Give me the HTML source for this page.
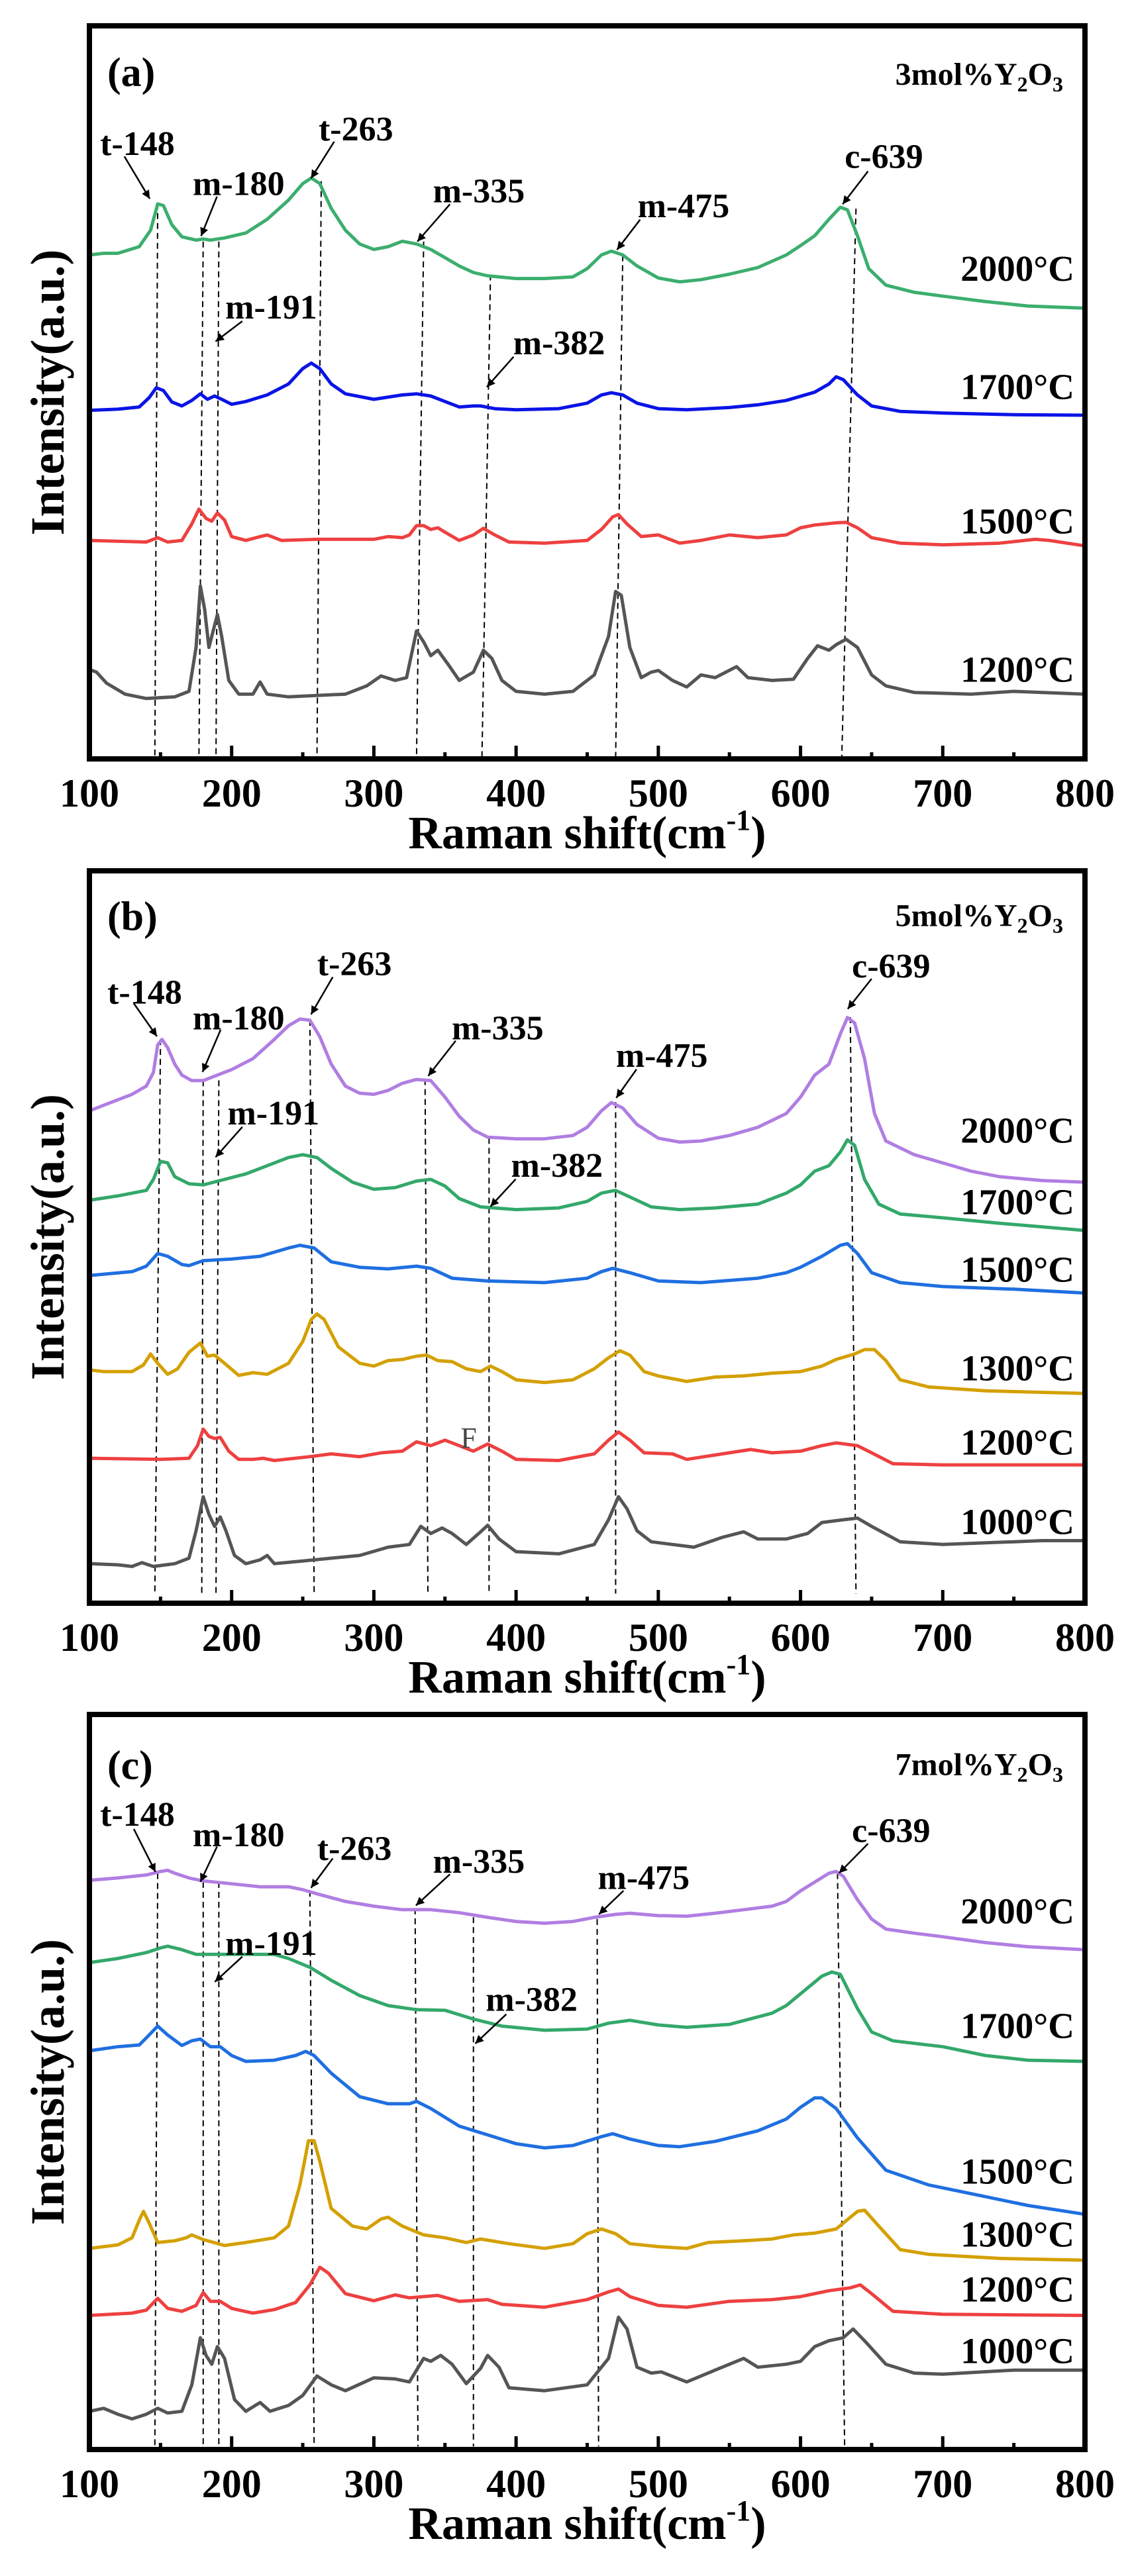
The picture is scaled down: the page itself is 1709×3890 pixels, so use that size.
<!DOCTYPE html>
<html><head><meta charset="utf-8">
<style>
html,body{margin:0;padding:0;background:#fff;}
svg{display:block;}
text{font-family:"Liberation Serif","Times New Roman",serif;font-weight:bold;fill:#000;}
</style></head>
<body>
<svg id="fig" width="1709" height="3890" viewBox="0 0 1709 3890" xmlns="http://www.w3.org/2000/svg"></svg>
<script>
// ---------- DATA ----------
const ticksX = [100,200,300,400,500,600,700,800];
const minorX = [150,250,350,450,550,650,750];

// Panel (a) 3mol%
const a_labels = ['2000°C','1700°C','1500°C','1200°C'];
const a_2000_x = [100,110,120,135,143,148,152,158,165,175,180,185,195,210,225,240,250,256,262,270,280,290,300,310,320,330,340,350,360,370,380,400,420,440,450,460,467,475,485,500,515,530,550,570,590,600,610,620,628,633,640,648,660,680,700,730,760,800];
const a_2000_y = [918,921,921,933,963,1011,1008,973,951,945,947,945,949,958,983,1018,1048,1058,1048,1003,963,938,928,933,943,938,928,913,898,886,880,875,875,878,893,918,925,918,898,876,869,873,883,895,918,935,953,983,1005,1000,953,893,863,850,843,833,825,821];
const a_1700_x = [100,120,135,142,147,152,158,165,172,178,183,188,193,200,210,225,240,250,256,262,270,280,300,320,330,340,350,360,370,375,385,400,430,450,460,467,475,485,500,520,550,570,590,610,620,625,630,640,650,670,700,750,800];
const a_1700_y = [635,637,641,658,676,671,650,643,653,665,655,661,655,646,651,663,683,711,721,711,683,665,655,663,665,661,651,641,643,643,638,636,638,648,663,667,663,648,638,636,640,645,653,668,683,696,691,663,643,633,630,627,626];
const a_1500_x = [100,140,148,155,165,172,177,182,186,190,195,200,210,220,225,235,260,300,310,320,325,330,335,340,345,350,360,370,377,385,395,420,450,460,468,472,478,488,500,515,530,550,570,590,600,610,625,632,640,650,670,700,740,765,775,800];
const a_1500_y = [398,395,403,395,398,428,455,438,433,448,435,405,398,405,408,398,400,400,405,403,408,425,425,418,421,413,398,408,420,408,395,393,398,418,441,445,428,405,408,393,398,408,403,408,421,426,430,431,421,403,393,390,393,400,398,388];
const a_1200_x = [100,105,112,125,140,160,170,175,178,181,184,187,190,193,198,205,215,220,225,240,280,295,305,315,323,330,335,340,345,352,360,370,377,383,390,400,420,440,455,465,470,474,480,488,495,500,510,520,530,540,555,563,580,595,605,612,620,625,632,640,650,660,680,720,750,800];
const a_1200_y = [163,158,138,118,110,113,123,203,315,273,203,233,263,223,143,118,118,140,118,113,118,133,151,143,148,233,213,188,198,173,143,158,198,183,143,123,118,123,153,223,305,298,203,148,158,161,143,131,153,148,168,148,143,145,183,206,198,208,218,203,153,133,121,118,123,118];

// Panel (b) 5mol%
const b_labels = ['2000°C','1700°C','1500°C','1300°C','1200°C','1000°C'];
const b_2000_x = [100,110,120,130,140,145,148,151,155,160,165,172,180,190,200,215,230,240,248,255,262,270,280,290,300,310,320,330,340,350,360,370,380,400,420,440,450,460,467,475,485,500,515,530,550,570,590,600,610,620,628,633,638,645,652,660,680,700,720,740,770,800];
const b_2000_y = [897,907,917,927,942,967,1017,1027,1012,982,962,952,952,962,972,992,1027,1052,1064,1062,1032,982,942,929,927,934,947,954,952,922,887,862,849,846,846,852,867,897,912,902,872,847,840,842,852,867,892,922,962,982,1037,1067,1057,992,892,842,817,802,787,777,770,767];
const b_1700_x = [100,120,140,145,150,155,160,170,180,195,210,225,240,250,260,270,285,300,315,330,340,350,360,375,400,430,450,460,470,480,495,515,540,570,590,600,610,620,628,633,638,645,655,670,700,740,800];
const b_1700_y = [734,742,752,772,805,802,777,764,762,772,782,797,812,817,812,792,767,754,757,769,772,760,737,722,717,720,732,747,752,740,722,717,720,727,747,762,787,797,822,844,834,772,727,709,702,692,679];
const b_1500_x = [100,130,140,148,155,165,170,180,200,220,240,248,258,270,290,310,330,340,355,380,420,450,460,468,480,500,530,570,590,600,615,628,633,640,650,670,700,750,800];
const b_1500_y = [597,604,614,637,632,617,615,624,627,632,647,652,647,622,612,609,614,610,592,587,584,592,604,610,602,587,584,592,602,612,632,652,655,637,602,584,577,572,565];
const b_1300_x = [100,110,130,138,143,148,155,162,170,178,183,188,195,205,215,225,240,250,256,260,265,275,290,300,310,320,330,337,345,355,365,375,382,390,400,420,440,455,465,473,480,490,500,520,540,560,580,600,615,625,638,645,652,660,670,690,730,800];
const b_1300_y = [425,422,422,434,454,437,417,427,457,474,450,452,437,415,420,417,437,477,517,527,517,467,437,432,442,444,450,452,442,440,427,422,432,422,407,402,407,427,447,460,452,422,414,404,412,414,419,422,432,444,454,462,462,442,407,394,387,382];
const b_1200_x = [100,150,170,176,180,184,188,192,198,205,215,222,230,255,270,290,305,320,330,340,350,360,370,380,390,400,430,455,465,472,480,490,510,520,545,565,580,600,615,625,640,650,665,700,800];
const b_1200_y = [264,262,264,287,317,304,300,302,277,262,262,264,260,267,272,267,274,277,294,287,297,287,277,290,277,262,260,272,297,312,297,274,272,262,272,280,274,277,287,292,287,274,254,252,252];
const b_1000_x = [100,120,130,137,145,160,170,175,180,184,188,192,196,202,210,220,225,230,250,270,290,310,325,333,340,348,355,365,375,380,388,400,430,455,465,472,478,485,495,510,525,545,560,570,590,605,615,630,640,650,670,700,750,770,800];
const b_1000_y = [72,70,67,74,67,72,82,132,194,162,140,157,132,87,72,79,87,72,77,82,87,102,107,140,127,137,127,107,130,142,117,94,90,107,152,194,172,132,112,107,102,120,130,117,117,127,147,152,155,140,112,107,112,114,114];

// Panel (c) 7mol%
const c_labels = ['2000°C','1700°C','1500°C','1300°C','1200°C','1000°C'];
const c_2000_x = [100,120,140,150,155,160,170,180,200,220,240,250,260,280,300,320,340,360,380,400,420,440,455,470,480,500,520,540,560,580,590,600,610,620,625,630,640,650,660,680,700,730,760,800];
const c_2000_y = [968,972,977,983,985,980,972,967,962,957,957,952,945,932,924,918,918,913,905,898,895,898,905,910,912,908,907,912,918,924,932,950,965,980,983,975,935,902,885,878,872,862,855,850];
const c_1700_x = [100,120,140,150,155,165,175,190,210,230,240,255,270,290,310,330,350,370,390,420,450,465,480,500,520,550,580,590,605,615,622,628,640,650,665,700,730,760,800];
const c_1700_y = [828,835,845,853,856,850,842,842,842,842,835,820,798,772,755,748,747,732,720,713,715,725,730,722,718,723,742,755,785,805,812,808,750,710,695,685,670,662,660];
const c_1500_x = [100,120,135,140,148,155,165,172,178,185,192,200,210,230,245,252,258,270,290,310,325,330,340,360,380,400,420,440,460,468,480,500,515,540,570,590,600,610,615,625,640,660,690,720,760,800];
const c_1500_y = [678,685,688,700,720,705,687,695,698,685,685,670,660,662,670,677,670,640,600,588,588,592,580,550,535,520,513,517,532,537,528,517,515,524,542,562,582,598,598,580,530,475,450,435,415,400];
const c_1300_x = [100,120,130,135,138,142,148,160,168,172,180,195,210,230,240,248,254,258,262,270,285,295,305,310,320,335,350,365,375,395,420,440,450,460,470,480,500,520,535,560,580,595,610,625,640,645,655,670,690,740,800];
const c_1300_y = [342,348,360,390,405,385,352,355,360,365,357,347,352,360,380,450,525,525,490,410,380,375,392,395,380,365,360,352,358,350,342,350,367,375,367,350,345,342,352,355,358,365,368,375,405,407,380,340,332,325,322];
const c_1200_x = [100,130,140,148,155,165,175,180,185,192,200,215,230,245,255,262,268,280,300,315,325,345,360,380,390,420,450,465,472,480,500,520,550,580,600,620,635,642,650,665,700,800];
const c_1200_y = [228,232,237,257,240,235,245,267,252,252,240,232,238,250,280,310,300,265,253,263,258,262,252,255,247,242,255,268,273,260,245,242,252,255,260,270,275,280,265,235,230,228];
const c_1000_x = [100,110,120,130,140,148,155,165,172,178,182,186,190,195,202,210,220,227,240,250,260,270,280,300,315,325,335,340,347,355,365,375,380,388,395,420,450,465,472,478,485,495,502,520,540,560,570,590,600,610,620,630,637,645,660,680,700,750,800];
const c_1000_y = [65,70,60,52,60,70,62,65,110,190,160,145,175,155,85,65,80,65,75,92,125,110,100,122,120,115,155,150,160,145,112,138,160,140,105,100,110,155,225,205,140,130,132,115,135,155,140,145,150,175,185,190,205,185,145,130,128,135,135];

// ---------- DRAWING ----------
const NS = 'http://www.w3.org/2000/svg';
const svg = document.getElementById('fig');
function mk(tag, attrs, parent){
  const e = document.createElementNS(NS, tag);
  for (const k in attrs) e.setAttribute(k, attrs[k]);
  (parent||svg).appendChild(e);
  return e;
}
const X0 = 135, X1 = 1638;
function xs(w){ return X0 + (w-100)/700*(X1-X0); }

const panels = [
  {id:'a', top:39, bottom:1146, k:0.829, off:0, fy:0.829, conc:'3', tag:'(a)',
   series:[[a_2000_x,a_2000_y,'#3cae6e'],[a_1700_x,a_1700_y,'#0a14e6'],[a_1500_x,a_1500_y,'#ee4040'],[a_1200_x,a_1200_y,'#555555']],
   temps:a_labels, tempY:[490,705,950,1220],
   dashes:[[148,146,370],[180,177,440],[191,189,440],[263,255,330,260],[335,330,440],[382,376,500],[475,470,465],[639,629,380]],
   ann:[['t-148',190,262,172,285,207,362],['m-180',330,335,300,358,278,430],['t-263',492,235,462,258,430,325],['m-335',662,348,622,372,577,440],['m-475',945,375,885,400,853,455],['c-639',1222,285,1200,312,1165,372],['m-191',375,560,335,585,298,622],['m-382',773,625,710,650,673,705]],
   tagY:130, concY:135, bot:1380},
  {id:'b', top:1315, bottom:2421, k:0.829, off:1250, fy:0.829, conc:'5', tag:'(b)',
   series:[[b_2000_x,b_2000_y,'#b07ee2'],[b_1700_x,b_1700_y,'#33a86a'],[b_1500_x,b_1500_y,'#1f6fe0'],[b_1300_x,b_1300_y,'#d4a000'],[b_1200_x,b_1200_y,'#ee4040'],[b_1000_x,b_1000_y,'#555555']],
   temps:b_labels, tempY:[552,682,805,985,1120,1265],
   dashes:[[150,146,385],[180,179,460],[191,189,460],[255,258,350],[336,338,458],[381,381,565],[470,470,500],[635,639,345]],
   ann:[['t-148',200,300,185,320,217,380],['m-180',330,347,305,368,280,445],['t-263',490,248,460,272,430,340],['m-335',688,365,630,388,592,452],['m-475',915,415,880,440,852,492],['c-639',1232,252,1205,275,1172,330],['m-191',378,520,335,545,298,600],['m-382',770,615,713,640,678,690]],
   tagY:160, concY:160, bot:1395, F:[648,1110]},
  {id:'c', top:2589, bottom:3699, k:0.888, off:2500, fy:0.888, conc:'7', tag:'(c)',
   series:[[c_2000_x,c_2000_y,'#b07ee2'],[c_1700_x,c_1700_y,'#33a86a'],[c_1500_x,c_1500_y,'#1f6fe0'],[c_1300_x,c_1300_y,'#d4a000'],[c_1200_x,c_1200_y,'#ee4040'],[c_1000_x,c_1000_y,'#555555']],
   temps:c_labels, tempY:[435,630,878,985,1078,1183],
   dashes:[[148,146,370],[180,180,385],[191,191,385],[255,258,400],[329,331,430],[370,370,445],[457,458,448],[626,631,370]],
   ann:[['t-148',190,270,185,295,215,368],['m-180',330,305,300,325,277,385],['t-263',490,328,460,345,430,395],['m-335',662,350,622,372,575,425],['m-475',890,378,862,400,828,440],['c-639',1232,298,1200,320,1160,370],['m-191',375,490,335,512,297,555],['m-382',735,585,700,610,657,660]],
   tagY:185, concY:185, bot:1345}
];

// arrowhead marker
const defs = mk('defs',{});
const mkr = mk('marker',{id:'ah',viewBox:'0 0 10 10',refX:'10',refY:'5',markerWidth:'5',markerHeight:'5',orient:'auto'},defs);
mk('path',{d:'M0,0 L10,5 L0,10 z',fill:'#000'},mkr);

panels.forEach(p=>{
  const g = mk('g',{});
  
  
  const py = yp => p.off + yp*p.fy;      // annotation coords helper
  const px = xp => xp*1.092;
  const ys = v => p.bottom - v*p.k;

  // dashed reference lines
  p.dashes.forEach(d=>{
    const xb = d.length>3 ? d[3] : d[1];
    const l = mk('line',{x1:xs(d[0]),y1:py(d[2]),x2:xs(xb),y2:py(p.bot),stroke:'#000','stroke-width':2,'stroke-dasharray':'9,6'},g);
    
    
  });

  // series
  p.series.forEach((s,i)=>{
    const [xa,ya,col] = s;
    let d='';
    for(let j=0;j<xa.length;j++) d += (j?'L':'M')+xs(xa[j]).toFixed(1)+','+ys(ya[j]).toFixed(1);
    const path = mk('path',{d:d,fill:'none',stroke:col,'stroke-width':5,'stroke-linejoin':'round','stroke-linecap':'round'},g);
    
    
    const t = mk('text',{x:1622,y:py(p.tempY[i])+18,'text-anchor':'end','font-size':55},g);
    t.textContent = p.temps[i];
    
    
  });

  // annotations
  p.ann.forEach(a=>{
    const t = mk('text',{x:px(a[1]),y:py(a[2])+17,'text-anchor':'middle','font-size':52},g);
    t.textContent = a[0];
    
    
    const l = mk('line',{x1:px(a[3]),y1:py(a[4]),x2:px(a[5]),y2:py(a[6]),stroke:'#000','stroke-width':2.5,'marker-end':'url(#ah)'},g);
    
    
  });
  if(p.F){
    const f = mk('text',{x:px(p.F[0]),y:py(p.F[1])+16,'text-anchor':'middle','font-size':44,style:'font-weight:normal;fill:#444'},g);
    f.textContent='F';
    
    
  }

  // frame
  const fr = mk('rect',{x:X0,y:p.top,width:X1-X0,height:p.bottom-p.top,fill:'none',stroke:'#000','stroke-width':8},g);
  
  

  // ticks
  ticksX.forEach(v=>{
    const tk = mk('line',{x1:xs(v),y1:p.bottom,x2:xs(v),y2:p.bottom-20,stroke:'#000','stroke-width':5},g);
    
    
    const tl = mk('text',{x:xs(v),y:p.bottom+72,'text-anchor':'middle','font-size':60},g);
    tl.textContent = v;
    
    
  });
  minorX.forEach(v=>{
    const tk = mk('line',{x1:xs(v),y1:p.bottom,x2:xs(v),y2:p.bottom-10,stroke:'#000','stroke-width':5},g);
    
    
  });

  // axis titles
  const xt = mk('text',{x:(X0+X1)/2,y:p.bottom+135,'text-anchor':'middle','font-size':70},g);
  xt.innerHTML = 'Raman shift(cm<tspan font-size="44" dy="-28">-1</tspan><tspan dy="28">)</tspan>';
  
  
  const cy = (p.top+p.bottom)/2;
  const yt = mk('text',{x:0,y:0,'text-anchor':'middle','font-size':72,transform:`translate(96,${cy}) rotate(-90)`},g);
  yt.textContent = 'Intensity(a.u.)';
  
  

  // panel tag & concentration
  const tg = mk('text',{x:162,y:py(p.tagY)+22,'font-size':62},g);
  tg.textContent = p.tag;
  
  
  const cc = mk('text',{x:1605,y:py(p.concY)+16,'text-anchor':'end','font-size':48},g);
  cc.innerHTML = p.conc+'mol%Y<tspan font-size="32" dy="10">2</tspan><tspan dy="-10">O</tspan><tspan font-size="32" dy="10">3</tspan>';
  
  
});
</script>
</body></html>
